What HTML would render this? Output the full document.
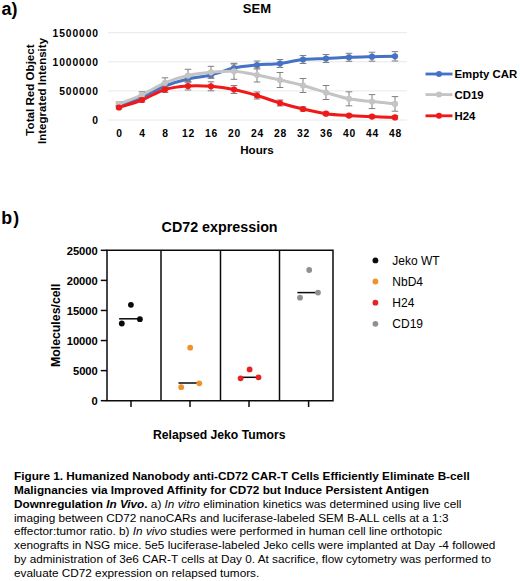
<!DOCTYPE html>
<html><head><meta charset="utf-8"><style>
html,body{margin:0;padding:0;background:#fff;}
body{width:520px;height:581px;position:relative;overflow:hidden;font-family:"Liberation Sans",sans-serif;color:#000;}
svg{position:absolute;left:0;top:0;}
.ax{font-size:10.3px;font-weight:bold;letter-spacing:0.9px;}
.lg{font-size:11.4px;font-weight:bold;}
.bx{font-size:11.2px;font-weight:bold;}
.lb{font-size:12px;}
.t{font-weight:bold;}
#cap{position:absolute;left:14px;top:469px;width:505px;font-size:11.77px;line-height:13.86px;white-space:nowrap;}
</style></head><body>
<svg width="520" height="581" viewBox="0 0 520 581" font-family="Liberation Sans, sans-serif">
<text x="1.5" y="15" font-size="18" font-weight="bold">a)</text>
<text x="242.8" y="12.5" font-size="13" font-weight="bold">SEM</text>
<text transform="translate(33.8,90) rotate(-90)" text-anchor="middle" font-size="11.6" font-weight="bold">Total Red Object</text>
<text transform="translate(46,91) rotate(-90)" text-anchor="middle" font-size="11.5" font-weight="bold">Integrated Intensity</text>
<text x="257" y="153.7" text-anchor="middle" font-size="11.6" font-weight="bold">Hours</text>
<line x1="108" y1="32.7" x2="407" y2="32.7" stroke="#E8E8E8" stroke-width="1"/><line x1="108" y1="61.8" x2="407" y2="61.8" stroke="#E8E8E8" stroke-width="1"/><line x1="108" y1="90.9" x2="407" y2="90.9" stroke="#E8E8E8" stroke-width="1"/><line x1="108" y1="120" x2="407" y2="120" stroke="#E8E8E8" stroke-width="1"/><path d="M119.00,105.50 C122.83,104.08 134.33,100.25 142.00,97.00 C149.67,93.75 157.33,89.00 165.00,86.00 C172.67,83.00 180.33,80.83 188.00,79.00 C195.67,77.17 203.33,76.83 211.00,75.00 C218.67,73.17 226.33,69.67 234.00,68.00 C241.67,66.33 249.33,65.75 257.00,65.00 C264.67,64.25 272.33,64.42 280.00,63.50 C287.67,62.58 295.33,60.33 303.00,59.50 C310.67,58.67 318.33,58.87 326.00,58.50 C333.67,58.13 341.33,57.60 349.00,57.30 C356.67,57.00 364.33,56.87 372.00,56.70 C379.67,56.53 391.17,56.37 395.00,56.30" stroke="#4472C4" stroke-width="3.0" fill="none" stroke-linejoin="round" stroke-linecap="round"/><g stroke="#808080" stroke-width="1" fill="none"><path d="M119.00,104.00V107.00M115.70,104.00h6.6M115.70,107.00h6.6"/><path d="M142.00,95.00V99.00M138.70,95.00h6.6M138.70,99.00h6.6"/><path d="M165.00,83.00V89.00M161.70,83.00h6.6M161.70,89.00h6.6"/><path d="M188.00,76.00V82.00M184.70,76.00h6.6M184.70,82.00h6.6"/><path d="M211.00,72.00V78.00M207.70,72.00h6.6M207.70,78.00h6.6"/><path d="M234.00,64.00V72.00M230.70,64.00h6.6M230.70,72.00h6.6"/><path d="M257.00,61.00V69.00M253.70,61.00h6.6M253.70,69.00h6.6"/><path d="M280.00,59.50V67.50M276.70,59.50h6.6M276.70,67.50h6.6"/><path d="M303.00,55.50V63.50M299.70,55.50h6.6M299.70,63.50h6.6"/><path d="M326.00,54.50V62.50M322.70,54.50h6.6M322.70,62.50h6.6"/><path d="M349.00,53.30V61.30M345.70,53.30h6.6M345.70,61.30h6.6"/><path d="M372.00,52.20V61.20M368.70,52.20h6.6M368.70,61.20h6.6"/><path d="M395.00,51.60V61.00M391.70,51.60h6.6M391.70,61.00h6.6"/></g><circle cx="119.00" cy="105.50" r="3.1" fill="#4472C4"/><circle cx="142.00" cy="97.00" r="3.1" fill="#4472C4"/><circle cx="165.00" cy="86.00" r="3.1" fill="#4472C4"/><circle cx="188.00" cy="79.00" r="3.1" fill="#4472C4"/><circle cx="211.00" cy="75.00" r="3.1" fill="#4472C4"/><circle cx="234.00" cy="68.00" r="3.1" fill="#4472C4"/><circle cx="257.00" cy="65.00" r="3.1" fill="#4472C4"/><circle cx="280.00" cy="63.50" r="3.1" fill="#4472C4"/><circle cx="303.00" cy="59.50" r="3.1" fill="#4472C4"/><circle cx="326.00" cy="58.50" r="3.1" fill="#4472C4"/><circle cx="349.00" cy="57.30" r="3.1" fill="#4472C4"/><circle cx="372.00" cy="56.70" r="3.1" fill="#4472C4"/><circle cx="395.00" cy="56.30" r="3.1" fill="#4472C4"/><path d="M119.00,104.00 C122.83,102.47 134.33,98.33 142.00,94.80 C149.67,91.27 157.33,86.02 165.00,82.80 C172.67,79.58 180.33,77.25 188.00,75.50 C195.67,73.75 203.33,73.00 211.00,72.30 C218.67,71.60 226.33,70.85 234.00,71.30 C241.67,71.75 249.33,73.55 257.00,75.00 C264.67,76.45 272.33,78.25 280.00,80.00 C287.67,81.75 295.33,83.42 303.00,85.50 C310.67,87.58 318.33,90.28 326.00,92.50 C333.67,94.72 341.33,97.28 349.00,98.80 C356.67,100.32 364.33,100.75 372.00,101.60 C379.67,102.45 391.17,103.52 395.00,103.90" stroke="#C4C4C4" stroke-width="3.0" fill="none" stroke-linejoin="round" stroke-linecap="round"/><g stroke="#808080" stroke-width="1" fill="none"><path d="M119.00,102.00V106.00M115.70,102.00h6.6M115.70,106.00h6.6"/><path d="M142.00,91.80V97.80M138.70,91.80h6.6M138.70,97.80h6.6"/><path d="M165.00,77.80V87.80M161.70,77.80h6.6M161.70,87.80h6.6"/><path d="M188.00,69.30V81.70M184.70,69.30h6.6M184.70,81.70h6.6"/><path d="M211.00,66.30V78.30M207.70,66.30h6.6M207.70,78.30h6.6"/><path d="M234.00,63.30V79.30M230.70,63.30h6.6M230.70,79.30h6.6"/><path d="M257.00,68.00V82.00M253.70,68.00h6.6M253.70,82.00h6.6"/><path d="M280.00,72.50V87.50M276.70,72.50h6.6M276.70,87.50h6.6"/><path d="M303.00,78.50V92.50M299.70,78.50h6.6M299.70,92.50h6.6"/><path d="M326.00,85.50V99.50M322.70,85.50h6.6M322.70,99.50h6.6"/><path d="M349.00,91.80V105.80M345.70,91.80h6.6M345.70,105.80h6.6"/><path d="M372.00,94.60V108.60M368.70,94.60h6.6M368.70,108.60h6.6"/><path d="M395.00,96.60V111.20M391.70,96.60h6.6M391.70,111.20h6.6"/></g><circle cx="119.00" cy="104.00" r="3.1" fill="#C4C4C4"/><circle cx="142.00" cy="94.80" r="3.1" fill="#C4C4C4"/><circle cx="165.00" cy="82.80" r="3.1" fill="#C4C4C4"/><circle cx="188.00" cy="75.50" r="3.1" fill="#C4C4C4"/><circle cx="211.00" cy="72.30" r="3.1" fill="#C4C4C4"/><circle cx="234.00" cy="71.30" r="3.1" fill="#C4C4C4"/><circle cx="257.00" cy="75.00" r="3.1" fill="#C4C4C4"/><circle cx="280.00" cy="80.00" r="3.1" fill="#C4C4C4"/><circle cx="303.00" cy="85.50" r="3.1" fill="#C4C4C4"/><circle cx="326.00" cy="92.50" r="3.1" fill="#C4C4C4"/><circle cx="349.00" cy="98.80" r="3.1" fill="#C4C4C4"/><circle cx="372.00" cy="101.60" r="3.1" fill="#C4C4C4"/><circle cx="395.00" cy="103.90" r="3.1" fill="#C4C4C4"/><path d="M119.00,107.50 C122.83,106.25 134.33,103.00 142.00,100.00 C149.67,97.00 157.33,91.83 165.00,89.50 C172.67,87.17 180.33,86.53 188.00,86.00 C195.67,85.47 203.33,85.72 211.00,86.30 C218.67,86.88 226.33,87.97 234.00,89.50 C241.67,91.03 249.33,93.25 257.00,95.50 C264.67,97.75 272.33,100.75 280.00,103.00 C287.67,105.25 295.33,107.22 303.00,109.00 C310.67,110.78 318.33,112.60 326.00,113.70 C333.67,114.80 341.33,115.12 349.00,115.60 C356.67,116.08 364.33,116.30 372.00,116.60 C379.67,116.90 391.17,117.27 395.00,117.40" stroke="#F01818" stroke-width="3.0" fill="none" stroke-linejoin="round" stroke-linecap="round"/><g stroke="#808080" stroke-width="1" fill="none"><path d="M119.00,106.00V109.00M115.70,106.00h6.6M115.70,109.00h6.6"/><path d="M142.00,98.00V102.00M138.70,98.00h6.6M138.70,102.00h6.6"/><path d="M165.00,86.50V92.50M161.70,86.50h6.6M161.70,92.50h6.6"/><path d="M188.00,82.00V90.00M184.70,82.00h6.6M184.70,90.00h6.6"/><path d="M211.00,81.80V90.80M207.70,81.80h6.6M207.70,90.80h6.6"/><path d="M234.00,85.50V93.50M230.70,85.50h6.6M230.70,93.50h6.6"/><path d="M257.00,92.00V99.00M253.70,92.00h6.6M253.70,99.00h6.6"/><path d="M280.00,100.00V106.00M276.70,100.00h6.6M276.70,106.00h6.6"/><path d="M303.00,107.00V111.00M299.70,107.00h6.6M299.70,111.00h6.6"/><path d="M326.00,112.20V115.20M322.70,112.20h6.6M322.70,115.20h6.6"/><path d="M349.00,114.10V117.10M345.70,114.10h6.6M345.70,117.10h6.6"/><path d="M372.00,115.10V118.10M368.70,115.10h6.6M368.70,118.10h6.6"/><path d="M395.00,115.90V118.90M391.70,115.90h6.6M391.70,118.90h6.6"/></g><circle cx="119.00" cy="107.50" r="3.1" fill="#F01818"/><circle cx="142.00" cy="100.00" r="3.1" fill="#F01818"/><circle cx="165.00" cy="89.50" r="3.1" fill="#F01818"/><circle cx="188.00" cy="86.00" r="3.1" fill="#F01818"/><circle cx="211.00" cy="86.30" r="3.1" fill="#F01818"/><circle cx="234.00" cy="89.50" r="3.1" fill="#F01818"/><circle cx="257.00" cy="95.50" r="3.1" fill="#F01818"/><circle cx="280.00" cy="103.00" r="3.1" fill="#F01818"/><circle cx="303.00" cy="109.00" r="3.1" fill="#F01818"/><circle cx="326.00" cy="113.70" r="3.1" fill="#F01818"/><circle cx="349.00" cy="115.60" r="3.1" fill="#F01818"/><circle cx="372.00" cy="116.60" r="3.1" fill="#F01818"/><circle cx="395.00" cy="117.40" r="3.1" fill="#F01818"/><text x="99" y="36.5" text-anchor="end" class="ax">1500000</text><text x="99" y="65.6" text-anchor="end" class="ax">1000000</text><text x="99" y="94.7" text-anchor="end" class="ax">500000</text><text x="99" y="123.8" text-anchor="end" class="ax">0</text><text x="119.00" y="137" text-anchor="middle" class="ax" dx="0.6">0</text><text x="142.00" y="137" text-anchor="middle" class="ax" dx="0.6">4</text><text x="165.00" y="137" text-anchor="middle" class="ax" dx="0.6">8</text><text x="188.00" y="137" text-anchor="middle" class="ax" dx="0.6">12</text><text x="211.00" y="137" text-anchor="middle" class="ax" dx="0.6">16</text><text x="234.00" y="137" text-anchor="middle" class="ax" dx="0.6">20</text><text x="257.00" y="137" text-anchor="middle" class="ax" dx="0.6">24</text><text x="280.00" y="137" text-anchor="middle" class="ax" dx="0.6">28</text><text x="303.00" y="137" text-anchor="middle" class="ax" dx="0.6">32</text><text x="326.00" y="137" text-anchor="middle" class="ax" dx="0.6">36</text><text x="349.00" y="137" text-anchor="middle" class="ax" dx="0.6">40</text><text x="372.00" y="137" text-anchor="middle" class="ax" dx="0.6">44</text><text x="395.00" y="137" text-anchor="middle" class="ax" dx="0.6">48</text><line x1="425.5" y1="74" x2="452.5" y2="74" stroke="#4472C4" stroke-width="2.8"/><circle cx="439" cy="74" r="3" fill="#4472C4"/><text x="454.5" y="78" class="lg">Empty CAR</text><line x1="425.5" y1="94.6" x2="452.5" y2="94.6" stroke="#C4C4C4" stroke-width="2.8"/><circle cx="439" cy="94.6" r="3" fill="#C4C4C4"/><text x="454.5" y="98.6" class="lg">CD19</text><line x1="425.5" y1="115.8" x2="452.5" y2="115.8" stroke="#F01818" stroke-width="2.8"/><circle cx="439" cy="115.8" r="3" fill="#F01818"/><text x="454.5" y="119.8" class="lg">H24</text>
<text x="1.3" y="223.5" font-size="17.8" font-weight="bold" letter-spacing="1.2">b)</text>
<text x="219.6" y="231.5" text-anchor="middle" font-size="14.3" font-weight="bold">CD72 expression</text>
<text transform="translate(59.6,325.3) rotate(-90)" text-anchor="middle" font-size="12.3" font-weight="bold">Molecules/cell</text>
<text x="219.2" y="439" text-anchor="middle" font-size="12.2" font-weight="bold">Relapsed Jeko Tumors</text>
<path d="M107,250.3H333V400.7H107Z" fill="none" stroke="#0a0a0a" stroke-width="1.5"/><line x1="161" y1="250.3" x2="161" y2="400.7" stroke="#0a0a0a" stroke-width="1.5"/><line x1="220.5" y1="250.3" x2="220.5" y2="400.7" stroke="#0a0a0a" stroke-width="1.5"/><line x1="279.5" y1="250.3" x2="279.5" y2="400.7" stroke="#0a0a0a" stroke-width="1.5"/><line x1="100.8" y1="250.30" x2="107" y2="250.30" stroke="#0a0a0a" stroke-width="1.5"/><text x="97.8" y="254.60" text-anchor="end" class="bx">25000</text><line x1="100.8" y1="280.38" x2="107" y2="280.38" stroke="#0a0a0a" stroke-width="1.5"/><text x="97.8" y="284.68" text-anchor="end" class="bx">20000</text><line x1="100.8" y1="310.46" x2="107" y2="310.46" stroke="#0a0a0a" stroke-width="1.5"/><text x="97.8" y="314.76" text-anchor="end" class="bx">15000</text><line x1="100.8" y1="340.54" x2="107" y2="340.54" stroke="#0a0a0a" stroke-width="1.5"/><text x="97.8" y="344.84" text-anchor="end" class="bx">10000</text><line x1="100.8" y1="370.62" x2="107" y2="370.62" stroke="#0a0a0a" stroke-width="1.5"/><text x="97.8" y="374.92" text-anchor="end" class="bx">5000</text><line x1="100.8" y1="400.70" x2="107" y2="400.70" stroke="#0a0a0a" stroke-width="1.5"/><text x="97.8" y="405.00" text-anchor="end" class="bx">0</text><line x1="131" y1="400.7" x2="131" y2="407" stroke="#0a0a0a" stroke-width="1.5"/><line x1="190" y1="400.7" x2="190" y2="407" stroke="#0a0a0a" stroke-width="1.5"/><line x1="249" y1="400.7" x2="249" y2="407" stroke="#0a0a0a" stroke-width="1.5"/><line x1="308.6" y1="400.7" x2="308.6" y2="407" stroke="#0a0a0a" stroke-width="1.5"/><line x1="119.1" y1="318.8" x2="139.9" y2="318.8" stroke="#0a0a0a" stroke-width="1.5"/><circle cx="130.9" cy="304.8" r="2.9" fill="#0a0a0a"/><circle cx="139.9" cy="319.2" r="2.9" fill="#0a0a0a"/><circle cx="121.8" cy="323.5" r="2.9" fill="#0a0a0a"/><line x1="178.5" y1="383" x2="199.3" y2="383" stroke="#0a0a0a" stroke-width="1.5"/><circle cx="190.2" cy="347.7" r="2.9" fill="#EE922E"/><circle cx="199.3" cy="383.3" r="2.9" fill="#EE922E"/><circle cx="181.2" cy="387.2" r="2.9" fill="#EE922E"/><line x1="240.6" y1="377.3" x2="258.5" y2="377.3" stroke="#0a0a0a" stroke-width="1.5"/><circle cx="249.6" cy="369.4" r="2.9" fill="#E82222"/><circle cx="240.6" cy="378.3" r="2.9" fill="#E82222"/><circle cx="258.5" cy="377.3" r="2.9" fill="#E82222"/><line x1="297.4" y1="292.6" x2="318" y2="292.6" stroke="#0a0a0a" stroke-width="1.5"/><circle cx="309.2" cy="270" r="2.9" fill="#909090"/><circle cx="318" cy="292.6" r="2.9" fill="#909090"/><circle cx="300" cy="297.7" r="2.9" fill="#909090"/><circle cx="375.4" cy="260.4" r="2.9" fill="#0a0a0a"/><text x="392.3" y="264.79999999999995" class="lb">Jeko WT</text><circle cx="375.4" cy="281.5" r="2.9" fill="#EE922E"/><text x="392.3" y="285.9" class="lb">NbD4</text><circle cx="375.4" cy="302.7" r="2.9" fill="#E82222"/><text x="392.3" y="307.09999999999997" class="lb">H24</text><circle cx="375.4" cy="323.8" r="2.9" fill="#909090"/><text x="392.3" y="328.2" class="lb">CD19</text>
</svg>
<div id="cap"><b>Figure 1. Humanized Nanobody anti-CD72 CAR-T Cells Efficiently Eliminate B-cell<br>
Malignancies via Improved Affinity for CD72 but Induce Persistent Antigen<br>
Downregulation <i>In Vivo</i>.</b> a) <i>In vitro</i> elimination kinetics was determined using live cell<br>
imaging between CD72 nanoCARs and luciferase-labeled SEM B-ALL cells at a 1:3<br>
effector:tumor ratio. b) <i>In vivo</i> studies were performed in human cell line orthotopic<br>
xenografts in NSG mice. 5e5 luciferase-labeled Jeko cells were implanted at Day -4 followed<br>
by administration of 3e6 CAR-T cells at Day 0. At sacrifice, flow cytometry was performed to<br>
evaluate CD72 expression on relapsed tumors.</div>
</body></html>
